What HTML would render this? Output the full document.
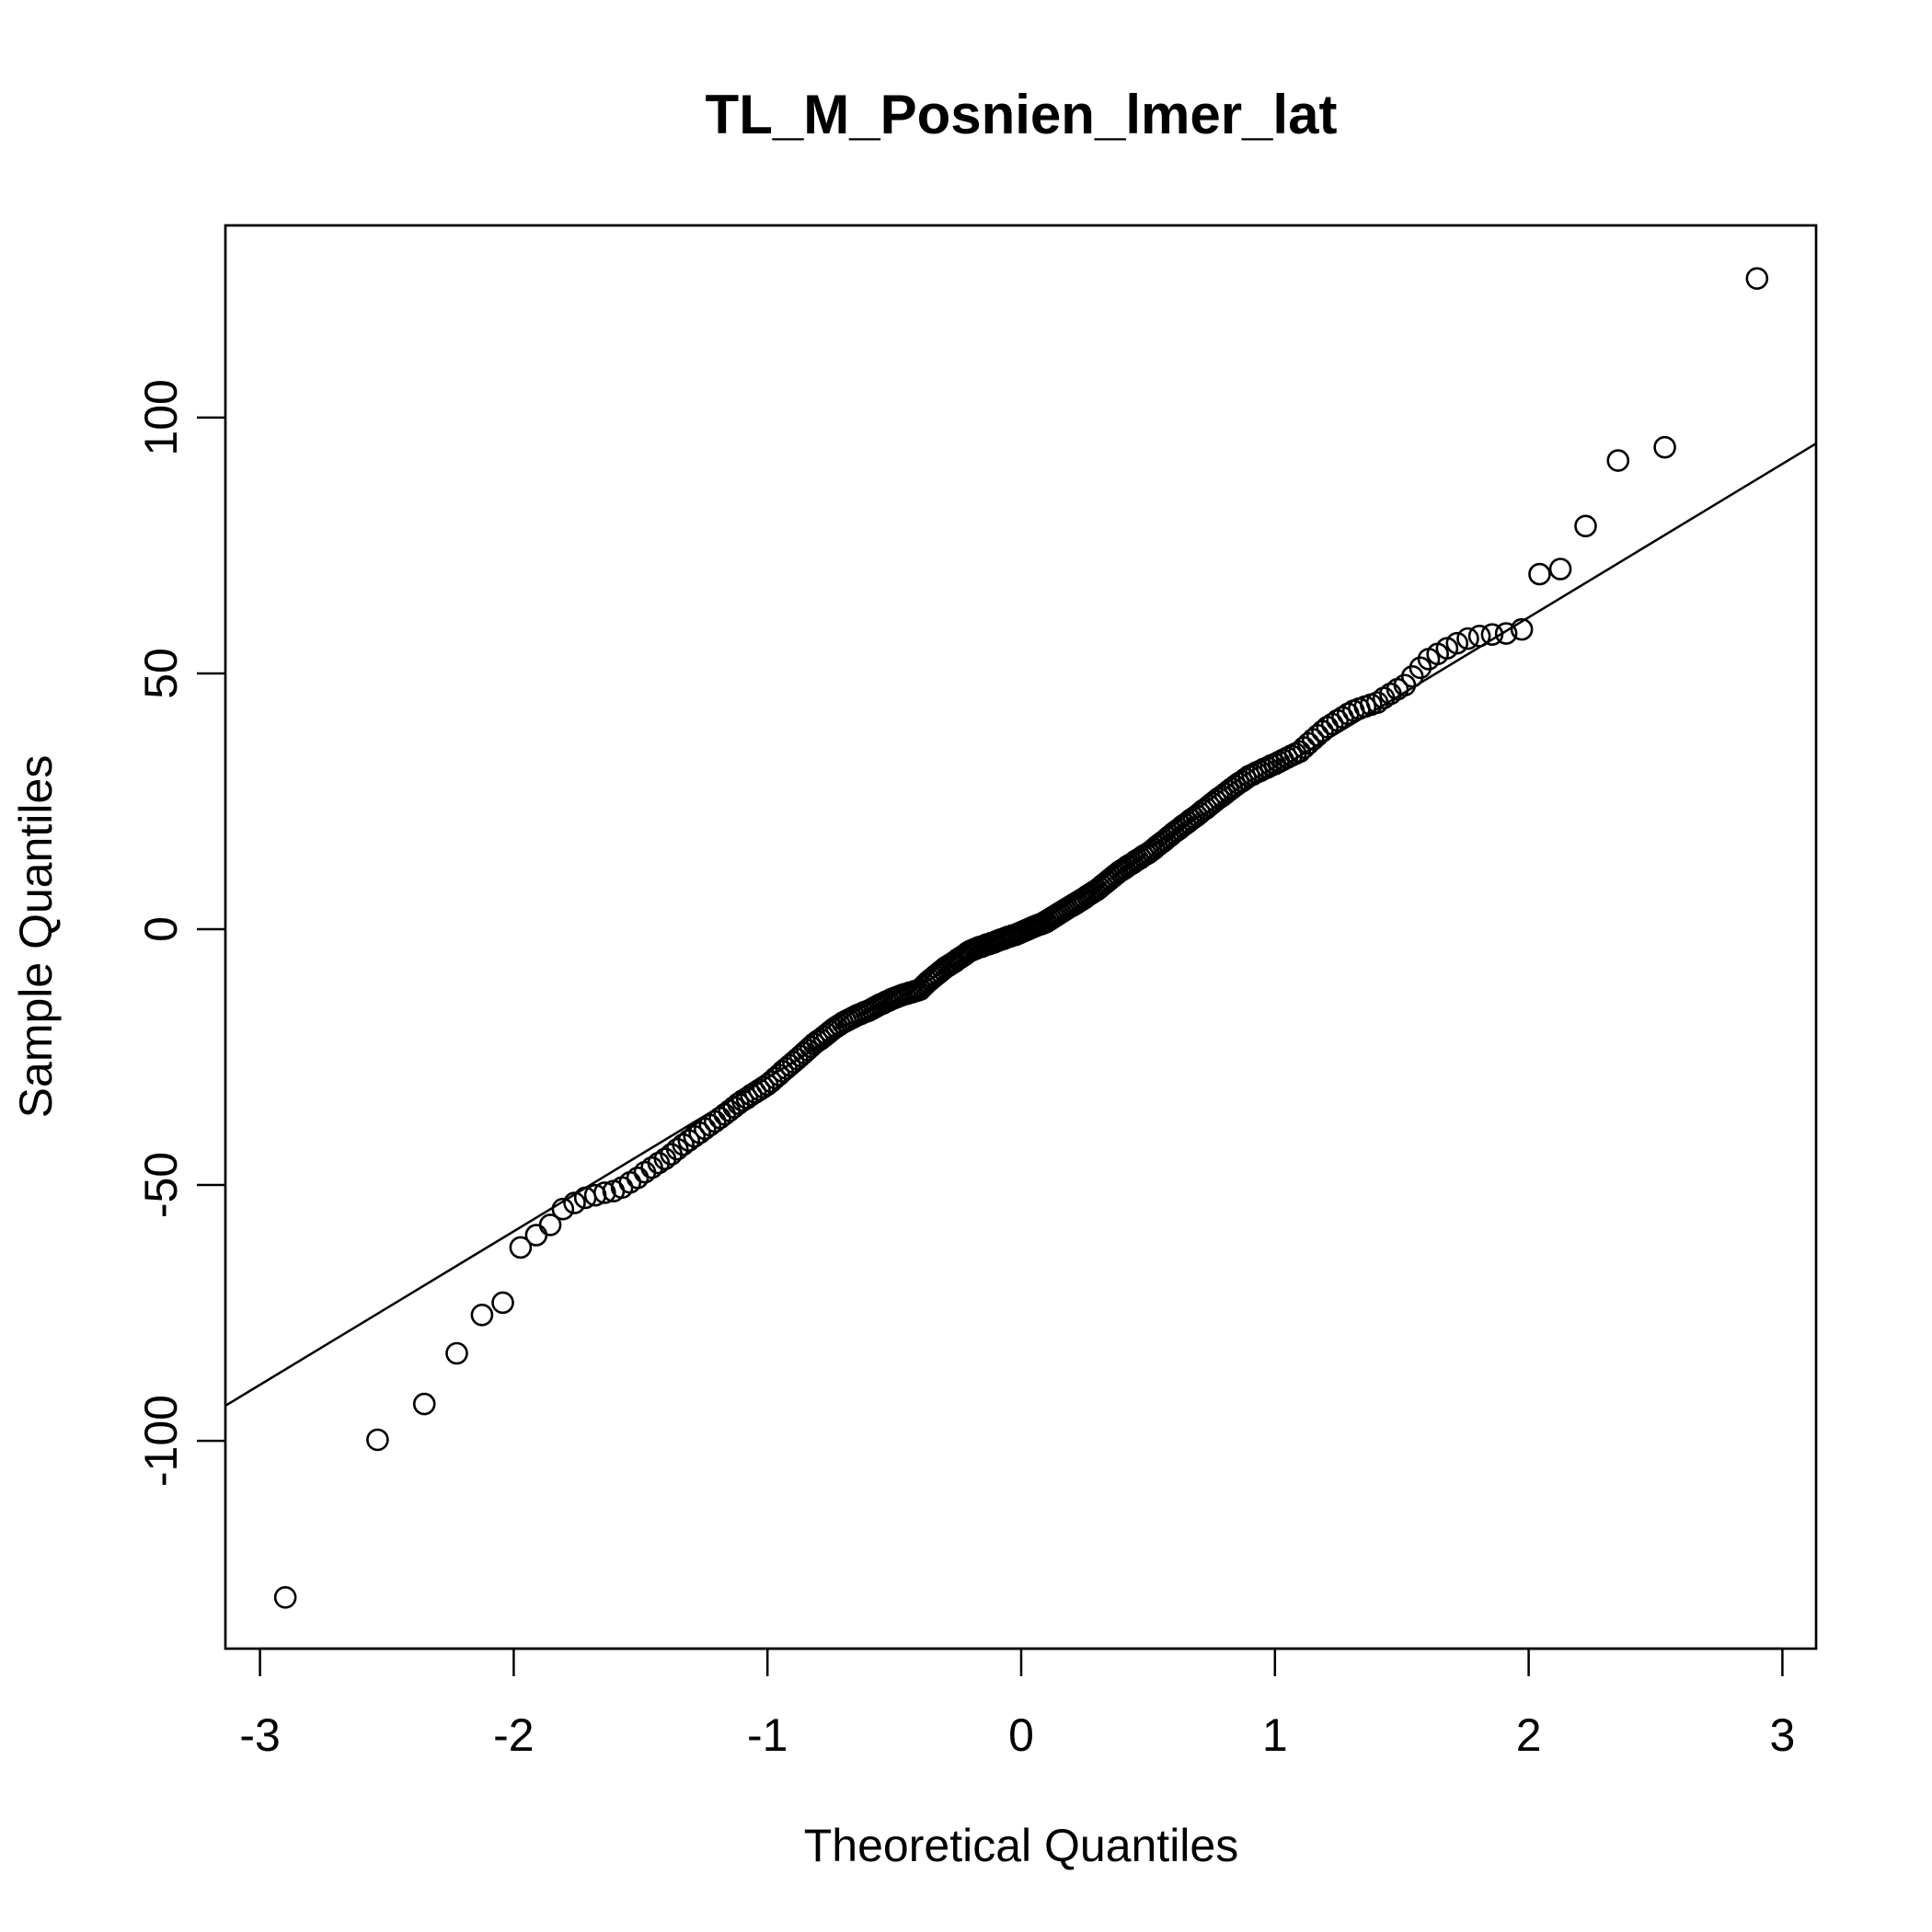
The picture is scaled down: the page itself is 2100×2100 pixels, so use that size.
<!DOCTYPE html>
<html><head><meta charset="utf-8"><style>
html,body{margin:0;padding:0;background:#fff}
svg{display:block}
text{font-family:"Liberation Sans",Arial,sans-serif;fill:#000}
</style></head><body>
<svg id="chart" width="2100" height="2100" viewBox="0 0 2100 2100" xmlns="http://www.w3.org/2000/svg">
<rect width="2100" height="2100" fill="#fff"/>
<text x="1110" y="145" font-size="60" font-weight="bold" text-anchor="middle">TL_M_Posnien_lmer_lat</text>
<text x="1110" y="2023" font-size="50" text-anchor="middle">Theoretical Quantiles</text>
<text x="0" y="0" font-size="50" text-anchor="middle" transform="translate(56,1018) rotate(-90)">Sample Quantiles</text>
<rect x="245" y="245" width="1729" height="1547" fill="none" stroke="#000" stroke-width="2.7"/>
<g id="xaxis"></g>
<g id="yaxis"></g>
<g id="points"></g>
<g id="refline"></g>
</svg>
<script>
const xTicks = [-3, -2, -1, 0, 1, 2, 3];
const yTicks = [-100, -50, 0, 50, 100];
const lineIntercept = 0.95;
const lineSlope = 30.0;
const sampleValues = [
-130.6,-99.8,-92.8,-82.9,-75.4,-73.0,-62.2,-59.8,-57.8,-54.7,
-53.5,-52.5,-52,-51.5,-51.2,
-50.5,-49.5,-48.6,
-47.5,-46.6,-45.7,-44.9,
-44,-43,-42.1,-41.3,
-40.5,-39.8,-39,-38.3,-37.6,
-36.9,-36.2,-35.5,-34.8,-34.1,-33.5,
-33,-32.4,-31.9,-31.4,-30.9,-30.4,
-29.8,-29.1,-28.5,-27.8,-27.2,-26.6,-26,
-25.4,-24.8,-24.2,-23.6,-23,-22.4,-21.9,
-21.5,-21,-20.5,-20,-19.5,-19.1,-18.7,-18.3,
-18,-17.7,-17.4,-17.1,-16.8,-16.6,-16.3,-16.1,-15.9,
-15.6,-15.3,-15,-14.7,-14.5,-14.2,-14,-13.7,-13.5,
-13.3,-13.1,-12.9,-12.7,-12.6,-12.4,-12.3,-12.1,-12,-11.8,
-11.3,-10.8,-10.3,-9.9,-9.5,-9.1,-8.7,-8.3,-7.9,-7.5,
-7.2,-6.9,-6.6,-6.3,-5.9,-5.6,-5.3,-5,-4.6,-4.3,
-4.1,-3.9,-3.7,-3.5,-3.4,-3.2,-3,-2.9,-2.7,-2.6,-2.4,
-2.2,-2,-1.9,-1.7,-1.5,-1.4,-1.2,-1.1,-0.9,-0.7,
-0.5,-0.3,-0.1,0.1,0.3,0.5,0.7,0.9,1,1.2,1.4,
1.7,2,2.3,2.6,2.9,3.2,3.5,3.8,4.1,4.4,4.6,
4.9,5.2,5.5,5.8,6.1,6.5,6.8,7.1,7.4,7.7,
8.1,8.5,8.9,9.3,9.7,10.1,10.5,10.9,11.3,11.6,
11.9,12.3,12.6,12.9,13.3,13.6,13.9,14.3,14.6,14.9,
15.3,15.7,16.2,16.6,17,17.4,17.9,18.3,18.8,
19.2,19.6,20.1,20.5,20.9,21.4,21.8,22.2,22.7,
23.2,23.6,24.1,24.6,25.1,25.6,26,26.5,
27,27.5,28,28.5,28.9,29.4,29.9,
30.2,30.6,30.9,31.3,31.6,32,32.3,
32.7,33.1,33.5,33.9,34.3,34.7,
35.5,36.3,37.1,37.9,38.7,39.5,
40.1,40.8,41.4,42.1,42.7,
43.1,43.5,43.9,44.3,
45.2,46,46.9,47.7,
49.4,51.1,52.8,
53.8,54.9,55.9,
56.8,
57.3,57.6,57.8,58.6,69.4,70.4,78.8,91.6,94.2,127.2
];

const NS = "http://www.w3.org/2000/svg";
const X0 = 1110, XS = 275.8;
const Y0 = 1010, YS = 5.561;
const plotL = 245, plotR = 1974, plotT = 245, plotB = 1792;
function sx(v){ return X0 + v*XS; }
function sy(v){ return Y0 - v*YS; }

function qnorm(p){
  const a=[-39.69683028665376,220.9460984245205,-275.9285104469687,138.357751867269,-30.66479806614716,2.506628277459239];
  const b=[-54.47609879822406,161.5858368580409,-155.6989798598866,66.80131188771972,-13.28068155288572];
  const c=[-0.007784894002430293,-0.3223964580411365,-2.400758277161838,-2.549732539343734,4.374664141464968,2.938163982698783];
  const d=[0.007784695709041462,0.3224671290700398,2.445134137142996,3.754408661907416];
  const pl=0.02425;let q,r;
  if(p<pl){q=Math.sqrt(-2*Math.log(p));return (((((c[0]*q+c[1])*q+c[2])*q+c[3])*q+c[4])*q+c[5])/((((d[0]*q+d[1])*q+d[2])*q+d[3])*q+1);}
  if(p>1-pl){q=Math.sqrt(-2*Math.log(1-p));return -(((((c[0]*q+c[1])*q+c[2])*q+c[3])*q+c[4])*q+c[5])/((((d[0]*q+d[1])*q+d[2])*q+d[3])*q+1);}
  q=p-0.5;r=q*q;
  return (((((a[0]*r+a[1])*r+a[2])*r+a[3])*r+a[4])*r+a[5])*q/(((((b[0]*r+b[1])*r+b[2])*r+b[3])*r+b[4])*r+1);
}

const xa = document.getElementById('xaxis');
xTicks.forEach(t=>{
  const l=document.createElementNS(NS,'line');
  l.setAttribute('x1',sx(t));l.setAttribute('x2',sx(t));
  l.setAttribute('y1',plotB);l.setAttribute('y2',1822);
  l.setAttribute('stroke','#000');l.setAttribute('stroke-width','2.5');
  
  
  xa.appendChild(l);
  const tx=document.createElementNS(NS,'text');
  tx.setAttribute('x',sx(t));tx.setAttribute('y',1903);
  tx.setAttribute('font-size','50');tx.setAttribute('text-anchor','middle');
  tx.textContent = t<0 ? '-'+Math.abs(t) : String(t);
  
  
  xa.appendChild(tx);
});
const bx=document.createElementNS(NS,'line');
bx.setAttribute('x1',sx(xTicks[0]));bx.setAttribute('x2',sx(xTicks[xTicks.length-1]));
bx.setAttribute('y1',plotB);bx.setAttribute('y2',plotB);
bx.setAttribute('stroke','#000');bx.setAttribute('stroke-width','2.5');


xa.appendChild(bx);

const ya = document.getElementById('yaxis');
yTicks.forEach(t=>{
  const l=document.createElementNS(NS,'line');
  l.setAttribute('x1',214);l.setAttribute('x2',plotL);
  l.setAttribute('y1',sy(t));l.setAttribute('y2',sy(t));
  l.setAttribute('stroke','#000');l.setAttribute('stroke-width','2.5');
  
  
  ya.appendChild(l);
  const tx=document.createElementNS(NS,'text');
  tx.setAttribute('x',0);tx.setAttribute('y',0);
  tx.setAttribute('font-size','50');tx.setAttribute('text-anchor','middle');
  tx.setAttribute('transform','translate(192,'+sy(t)+') rotate(-90)');
  tx.textContent = t<0 ? '-'+Math.abs(t) : String(t);
  
  
  ya.appendChild(tx);
});

const pg = document.getElementById('points');
const n = sampleValues.length;
sampleValues.forEach((v,i)=>{
  const tq = qnorm((i+0.5)/n);
  const c=document.createElementNS(NS,'circle');
  c.setAttribute('cx',sx(tq));c.setAttribute('cy',sy(v));c.setAttribute('r','11');
  c.setAttribute('fill','none');c.setAttribute('stroke','#000');c.setAttribute('stroke-width','2.6');
  
  
  pg.appendChild(c);
});

const rg = document.getElementById('refline');
const xl = (plotL-X0)/XS, xr = (plotR-X0)/XS;
const ln=document.createElementNS(NS,'line');
ln.setAttribute('x1',plotL);ln.setAttribute('y1',sy(lineIntercept+lineSlope*xl));
ln.setAttribute('x2',plotR);ln.setAttribute('y2',sy(lineIntercept+lineSlope*xr));
ln.setAttribute('stroke','#000');ln.setAttribute('stroke-width','2.5');


rg.appendChild(ln);
</script>
</body></html>
